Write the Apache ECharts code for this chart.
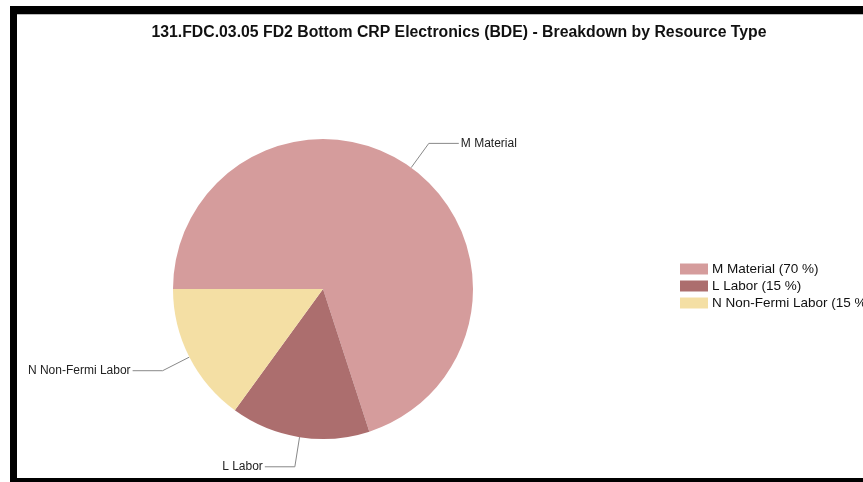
<!DOCTYPE html>
<html><head><meta charset="utf-8">
<script src="https://cdn.jsdelivr.net/npm/echarts@6/dist/echarts.min.js"></script>
<style>html,body{margin:0;padding:0;background:#fff;}#c{width:863px;height:482px;}</style>
</head><body><div id="c"></div>
<script>
const titleText = '131.FDC.03.05 FD2 Bottom CRP Electronics (BDE) - Breakdown by Resource Type';
const categories = ['M Material', 'L Labor', 'N Non-Fermi Labor'];
const values = [70, 15, 15];
const colors = ['#D59C9C', '#AC6E6E', '#F4DFA4'];
const total = values.reduce((a, b) => a + b, 0);
const chart = echarts.init(document.getElementById('c'), null, {renderer: 'canvas'});
chart.setOption({
  animation: false,
  backgroundColor: '#fff',
  title: {
    text: titleText, left: 454, top: 20, textAlign: 'center',
    textStyle: {fontFamily: 'Liberation Sans', fontWeight: 'bold', fontSize: 15.8, color: '#111'}
  },
  graphic: [
    {type: 'rect', shape: {x: 10, y: 6, width: 853, height: 8}, style: {fill: '#000'}},
    {type: 'rect', shape: {x: 10, y: 14, width: 853, height: 1}, style: {fill: '#bbb'}},
    {type: 'rect', shape: {x: 10, y: 6, width: 7, height: 476}, style: {fill: '#000'}},
    {type: 'rect', shape: {x: 10, y: 478, width: 853, height: 4}, style: {fill: '#000'}}
  ],
  legend: {
    orient: 'vertical', left: 675, top: 257,
    itemWidth: 28, itemHeight: 11, itemGap: 3,
    icon: 'rect',
    textStyle: {fontFamily: 'Liberation Sans', fontSize: 13.5, color: '#111', padding: [0, 0, 0, -1]},
    formatter: function (name) {
      const i = categories.indexOf(name);
      return name + ' (' + Math.round(values[i] / total * 100) + ' %)';
    },
    data: categories
  },
  series: [{
    type: 'pie',
    center: [323, 289], radius: 150,
    startAngle: 180, clockwise: true,
    data: categories.map((n, i) => ({name: n, value: values[i], itemStyle: {color: colors[i]}})),
    label: {
      show: true, position: 'outside', formatter: '{b}',
      fontFamily: 'Liberation Sans', fontSize: 12, color: '#222',
      distanceToLabelLine: 2
    },
    labelLine: {show: true, length: 30, length2: 30, lineStyle: {color: '#888', width: 1}},
    emphasis: {disabled: true}
  }]
});
</script></body></html>
